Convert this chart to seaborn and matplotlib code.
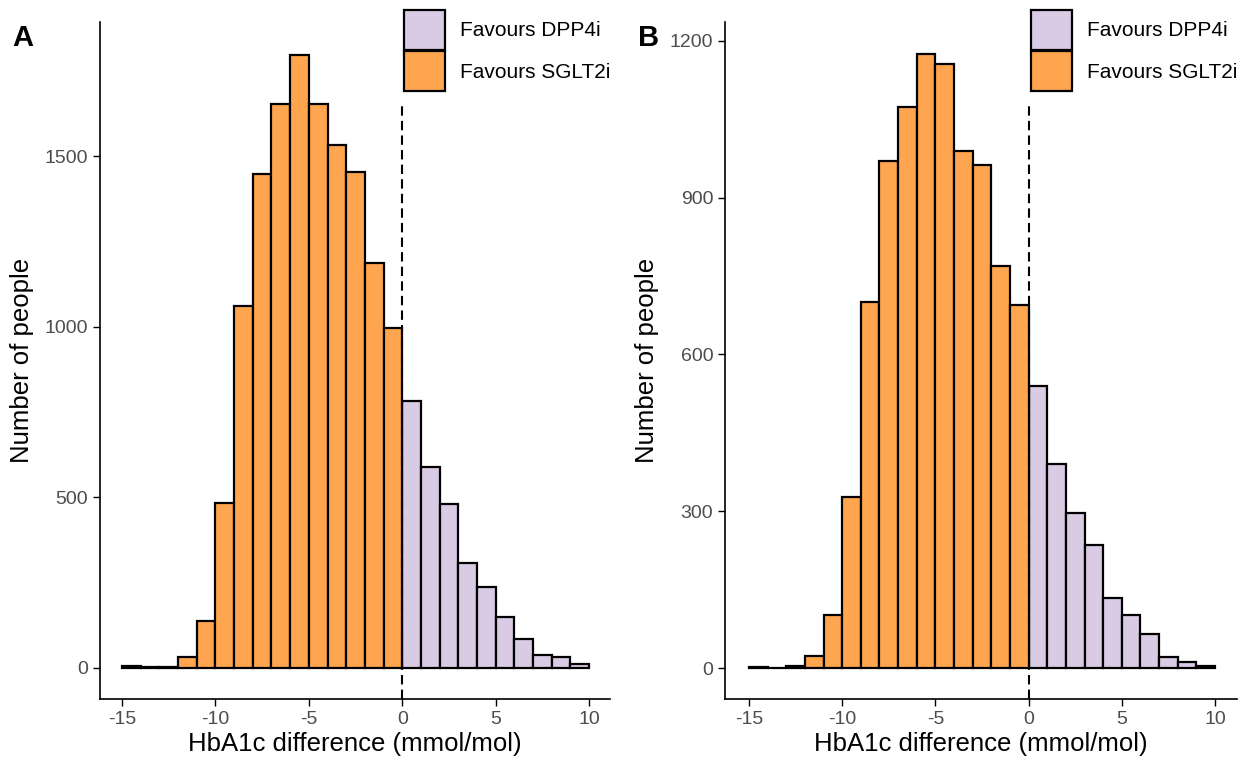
import numpy as np
import pandas as pd
import seaborn as sns
import matplotlib.pyplot as plt
from matplotlib.patches import Patch

# bins of width 1 from -15 to 10 (left edges)
bin_start = list(range(-15, 10))

# panel A counts per bin
counts_a = [5, 2, 3, 31, 139, 484, 1061, 1449, 1654, 1797, 1652, 1534, 1452, 1186, 995,
            783, 588, 480, 307, 236, 150, 85, 38, 31, 11]
# panel B counts per bin
counts_b = [2, 1, 4, 24, 102, 327, 701, 970, 1074, 1174, 1156, 989, 963, 769, 695,
            540, 390, 297, 235, 135, 101, 65, 22, 12, 4]

groups = ["Favours DPP4i", "Favours SGLT2i"]
colours = {"Favours DPP4i": "#D9CBE3", "Favours SGLT2i": "#FFA54F"}

sns.set_style("white")
plt.rcParams['font.family'] = ['Liberation Sans', 'DejaVu Sans']
plt.rcParams['axes.unicode_minus'] = False
plt.rcParams['text.color'] = 'black'
plt.rcParams['axes.labelcolor'] = 'black'

fig = plt.figure(figsize=(12.48, 7.64), dpi=100)
ax1 = fig.add_axes([0.0801, 0.0851, 0.4087, 0.8861])
ax2 = fig.add_axes([0.5809, 0.0851, 0.4103, 0.8861])

panels = [
    (ax1, counts_a, [0, 500, 1000, 1500], (-91, 1893), (-16.18, 11.12), "A", 12),
    (ax2, counts_b, [0, 300, 600, 900, 1200], (-59, 1236), (-16.29, 11.18), "B", 638),
]

for ax, counts, yticks, ylim, xlim, tag, tag_x in panels:
    df = pd.DataFrame({"start": bin_start, "n": counts})
    df["mid"] = df["start"] + 0.5
    df["group"] = np.where(df["start"] < 0, "Favours SGLT2i", "Favours DPP4i")
    for g in groups:
        sub = df[df["group"] == g]
        edges = list(sub["start"]) + [sub["start"].max() + 1]
        sns.histplot(data=sub, x="mid", weights="n", bins=edges, color=colours[g],
                     edgecolor="black", linewidth=1.6, alpha=1, ax=ax, zorder=2)
    ax.axvline(0, ymin=0, ymax=0.877, color="black", linestyle=(0, (4.5, 2.5)),
               linewidth=1.5, zorder=3)
    ax.set_xlim(*xlim)
    ax.set_ylim(*ylim)
    ax.set_xticks([-15, -10, -5, 0, 5, 10])
    ax.set_yticks(yticks)
    ax.tick_params(axis="both", labelsize=14, labelcolor="#4D4D4D", length=5,
                   width=1, color="black", direction="out", bottom=True, left=True)
    ax.set_xlabel("HbA1c difference (mmol/mol)", fontsize=18.5, labelpad=3, color="black")
    ax.set_ylabel("Number of people", fontsize=18.5, labelpad=8, color="black")
    sns.despine(ax=ax)
    for s in ["left", "bottom"]:
        ax.spines[s].set_linewidth(1.2)
        ax.spines[s].set_color("black")
    handles = [Patch(facecolor=colours[g], edgecolor="black", linewidth=1.6, label=g)
               for g in groups]
    leg = ax.legend(handles=handles, loc="upper right", bbox_to_anchor=(1.0, 1.018),
                    frameon=False, fontsize=15, handlelength=1.95, handleheight=2.6,
                    labelspacing=0.05, handletextpad=0.7, borderpad=0.0, borderaxespad=0.0)
    for t in leg.get_texts():
        t.set_color("black")
    fig.text(tag_x / 1248, 1 - 38 / 764, tag, fontsize=21, fontweight="bold",
             va="center", color="black")

fig.savefig("out.png", dpi=100)
